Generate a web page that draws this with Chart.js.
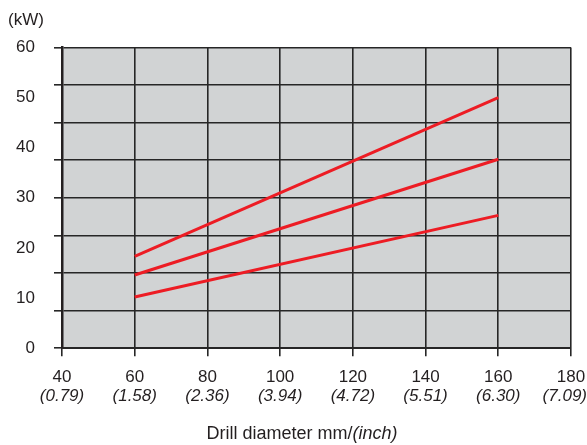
<!DOCTYPE html>
<html>
<head>
<meta charset="utf-8">
<script src="https://cdn.jsdelivr.net/npm/chart.js@4/dist/chart.umd.min.js"></script>
<style>
  html, body { margin: 0; padding: 0; background: #fff; }
  #wrap { width: 587px; height: 445px; }
</style>
</head>
<body>
<div id="wrap"><canvas id="powerChart"></canvas></div>
<script>
// drill diameter in mm, with inch equivalents shown underneath
const mmTicks = [40, 60, 80, 100, 120, 140, 160, 180];
const inchTicks = ['(0.79)', '(1.58)', '(2.36)', '(3.94)', '(4.72)', '(5.51)', '(6.30)', '(7.09)'];

// power draw (kW) at 60 mm and 160 mm
const diameters = [60, 160];
const powerHigh = [18.3, 50];
const powerMid = [14.6, 37.7];
const powerLow = [10.2, 26.5];

const INK = '#231f20';
const FONT = "'Liberation Sans', Arial, sans-serif";
const FONT_SIZE = 17;
const TICK_PAD = 11;

function toPoints(ys) {
    return diameters.map((x, i) => ({ x: x, y: ys[i] }));
}

function lineSet(ys) {
    return {
        data: toPoints(ys),
        borderColor: '#ed1c24',
        borderWidth: 3,
        pointRadius: 0,
        fill: false,
        yAxisID: 'y'
    };
}

// grey plot background
const plotBackground = {
    id: 'plotBackground',
    beforeDraw(chart) {
        const { ctx, chartArea: a } = chart;
        ctx.save();
        ctx.fillStyle = '#d1d3d4';
        ctx.fillRect(a.left, a.top, a.right - a.left, a.bottom - a.top);
        ctx.restore();
    }
};

// italic inch row under the mm ticks, plus the axis caption
const inchLabels = {
    id: 'inchLabels',
    afterDraw(chart) {
        const ctx = chart.ctx;
        const xs = chart.scales.x;
        const lh = FONT_SIZE * 1.2;
        const y = xs.top + 8 + TICK_PAD + lh * 1.5 - 2;
        ctx.save();
        ctx.fillStyle = INK;
        ctx.textBaseline = 'middle';
        ctx.textAlign = 'center';
        ctx.font = `italic ${FONT_SIZE}px ${FONT}`;
        mmTicks.forEach((v, i) => {
            const w = ctx.measureText(inchTicks[i]).width;
            let x = xs.getPixelForValue(v);
            if (x + w / 2 > chart.width) x = chart.width - w / 2;
            ctx.fillText(inchTicks[i], x, y);
        });

        // "Drill diameter mm/(inch)" with the unit in italics
        const plain = 'Drill diameter mm/';
        const ital = '(inch)';
        const capSize = 18;
        ctx.font = `${capSize}px ${FONT}`;
        const w1 = ctx.measureText(plain).width;
        ctx.font = `italic ${capSize}px ${FONT}`;
        const w2 = ctx.measureText(ital).width;
        const startX = 302 - (w1 + w2) / 2;
        const ty = 434;
        ctx.textAlign = 'left';
        ctx.font = `${capSize}px ${FONT}`;
        ctx.fillText(plain, startX, ty);
        ctx.font = `italic ${capSize}px ${FONT}`;
        ctx.fillText(ital, startX + w1, ty);
        ctx.restore();
    }
};

new Chart(document.getElementById('powerChart'), {
    type: 'line',
    data: {
        datasets: [lineSet(powerHigh), lineSet(powerMid), lineSet(powerLow)]
    },
    options: {
        responsive: true,
        maintainAspectRatio: false,
        animation: false,
        layout: { padding: { left: 8, right: 0, top: 0, bottom: 26 } },
        plugins: {
            legend: { display: false },
            tooltip: { enabled: false },
            title: {
                display: true,
                text: '(kW)',
                align: 'start',
                color: INK,
                font: { family: FONT, size: FONT_SIZE, weight: 'normal' },
                padding: { top: 10, bottom: 17 }
            }
        },
        scales: {
            x: {
                type: 'linear',
                min: 40,
                max: 180,
                // keep the 180 label right against the edge
                afterFit(scale) { scale.paddingRight = 16; },
                ticks: {
                    stepSize: 20,
                    autoSkip: false,
                    maxRotation: 0,
                    padding: TICK_PAD,
                    color: INK,
                    font: { family: FONT, size: FONT_SIZE },
                    callback: (v) => [String(v), '']
                },
                grid: { color: '#262626', lineWidth: 1.6, tickLength: 8 },
                border: { display: true, color: '#262626', width: 2 }
            },
            // grid every 7.5 kW
            y: {
                type: 'linear',
                position: 'left',
                weight: 0,
                min: 0,
                max: 60,
                ticks: { stepSize: 7.5, display: false },
                grid: { color: '#262626', lineWidth: 1.6, tickLength: 8 },
                border: { display: true, color: '#231f20', width: 2.5 }
            },
            // labels every 10 kW
            yLabels: {
                type: 'linear',
                position: 'left',
                weight: 1,
                min: 0,
                max: 60,
                afterFit(scale) { scale.width = 46; },
                ticks: {
                    stepSize: 10,
                    padding: 19,
                    color: INK,
                    font: { family: FONT, size: FONT_SIZE }
                },
                grid: { display: false, drawTicks: false },
                border: { display: false }
            }
        }
    },
    plugins: [plotBackground, inchLabels]
});
</script>
</body>
</html>
